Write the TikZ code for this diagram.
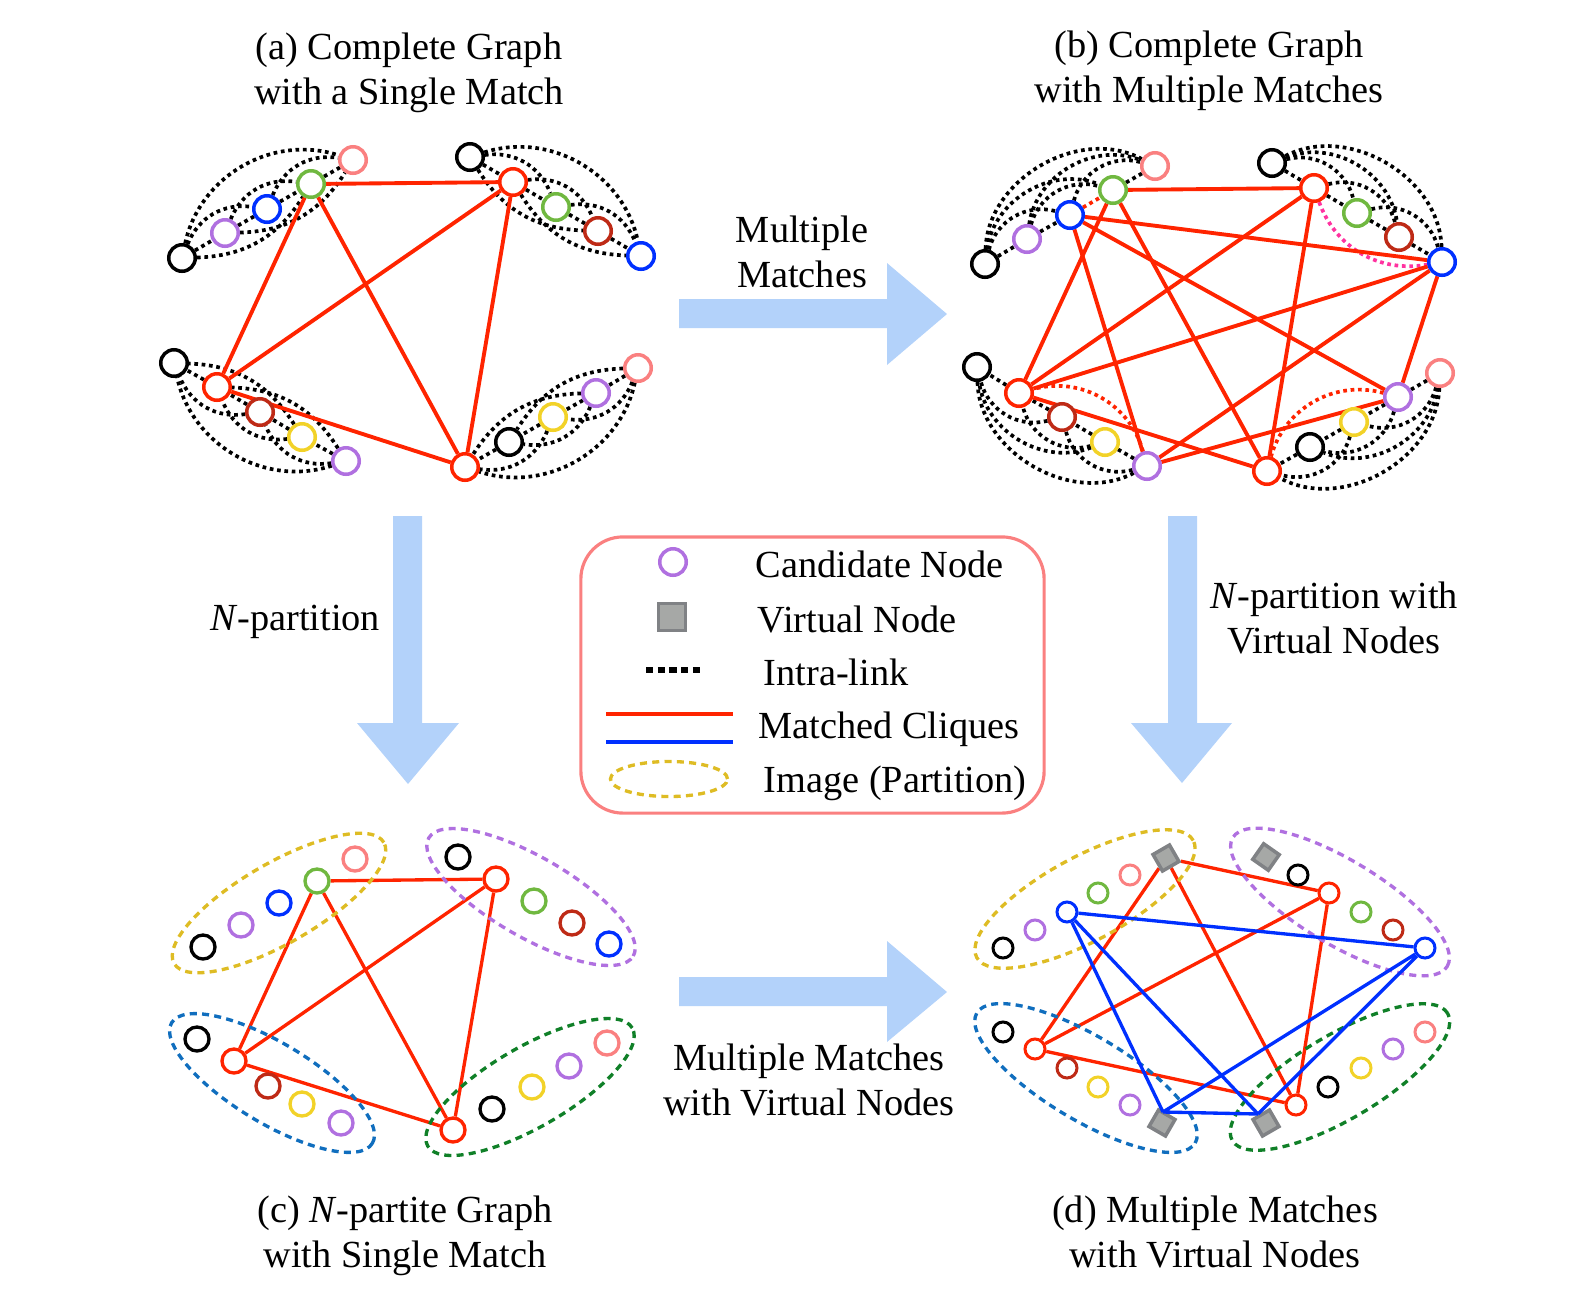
\documentclass[tikz,border=0pt]{standalone}
\usepackage{fontspec}
\setmainfont{Liberation Serif}
\usetikzlibrary{shapes.geometric}
\pgfdeclarelayer{bg}
\pgfsetlayers{bg,main}
\definecolor{cpink}{RGB}{250,128,128}
\definecolor{cgreen}{RGB}{112,184,64}
\definecolor{cblue}{RGB}{0,48,255}
\definecolor{cpurple}{RGB}{176,112,224}
\definecolor{cred}{RGB}{255,36,0}
\definecolor{cdred}{RGB}{190,42,22}
\definecolor{cyellow}{RGB}{242,210,40}
\definecolor{eyellow}{RGB}{222,188,36}
\definecolor{eblue}{RGB}{16,110,190}
\definecolor{egreen}{RGB}{16,128,40}
\definecolor{cmag}{RGB}{255,50,160}
\definecolor{arrowblue}{RGB}{179,210,250}
\definecolor{vfill}{RGB}{166,168,166}
\definecolor{vborder}{RGB}{128,130,133}
\definecolor{lborder}{RGB}{250,128,128}
\tikzset{
  cand/.style={circle, draw=#1, fill=white, line width=1pt, minimum size=0.265cm, inner sep=0pt},
  smallc/.style={minimum size=0.24cm, line width=0.95pt},
  tinyc/.style={minimum size=0.2cm, line width=0.85pt},
  vsq/.style={rectangle, draw=vborder, fill=vfill, line width=1pt, minimum size=0.19cm, inner sep=0pt},
  match/.style={cred, line width=1.1pt},
  thinmatch/.style={cred, line width=0.95pt},
  bmatch/.style={cblue, line width=0.95pt},
  intra/.style={black, line width=1.05pt, dash pattern=on 1.05pt off 1.05pt},
  cintra/.style={line width=1.05pt, dash pattern=on 1.05pt off 1.05pt},
  part/.style={ellipse, draw=#1, line width=0.95pt, dash pattern=on 2pt off 1.5pt, inner sep=0pt},
  lbl/.style={font=\fontsize{10.9pt}{12.8pt}\selectfont, inner sep=0pt, anchor=base},
  legtxt/.style={font=\fontsize{10.9pt}{12.8pt}\selectfont, inner sep=0pt, anchor=base west},
  legdots/.style={black, line width=1.7pt, dash pattern=on 2pt off 1.34pt},
  bigarrow/.style={fill=arrowblue, draw=none},
}
% complete intra-image graph on five nodes
\newcommand{\kfive}[8]{%
  \draw[intra] (#4)--(#5) (#5)--(#6) (#6)--(#7) (#7)--(#8);
  \draw[intra] (#4) to[#1] (#6) (#5) to[#1] (#7) (#6) to[#1] (#8);
  \draw[intra] (#4) to[#2] (#7) (#5) to[#2] (#8);
  \draw[intra] (#4) to[#3] (#8);
}
\begin{document}
\begin{tikzpicture}[x=0.01cm,y=-0.01cm]
\useasboundingbox (0,0) rectangle (1590,1293);

% ---------- big arrows ----------
\fill[bigarrow] (679,299) -- (887,299) -- (887,263) -- (947,314) -- (887,365) -- (887,328) -- (679,328) -- cycle;
\fill[bigarrow] (679,977) -- (887,977) -- (887,941) -- (947,992) -- (887,1042) -- (887,1006) -- (679,1006) -- cycle;
\fill[bigarrow] (393,516) -- (422,516) -- (422,723) -- (459,723) -- (408,784) -- (357,723) -- (393,723) -- cycle;
\fill[bigarrow] (1168,516) -- (1197,516) -- (1197,723) -- (1232,723) -- (1182,783) -- (1131,723) -- (1168,723) -- cycle;

% ---------- labels ----------
\node[lbl] (ta1) at (409,59) {(a) Complete Graph};
\node[lbl] (ta2) at (409,104) {with a Single Match};
\node[lbl] (tb1) at (1209,57) {(b) Complete Graph};
\node[lbl] (tb2) at (1209,102) {with Multiple Matches};
\node[lbl] (tc1) at (405,1222) {(c) \textit{N}-partite Graph};
\node[lbl] (tc2) at (405,1267) {with Single Match};
\node[lbl] (td1) at (1215,1222) {(d) Multiple Matches};
\node[lbl] (td2) at (1215,1267) {with Virtual Nodes};
\node[lbl] (mm1) at (802,242) {Multiple};
\node[lbl] (mm2) at (802,287) {Matches};
\node[lbl] (np) at (295,630) {\textit{N}-partition};
\node[lbl] (nv1) at (1334,608) {\textit{N}-partition with};
\node[lbl] (nv2) at (1334,653) {Virtual Nodes};
\node[lbl] (mv1) at (809,1070) {Multiple Matches};
\node[lbl] (mv2) at (809,1115) {with Virtual Nodes};

% ---------- legend ----------
\node[draw=lborder, line width=0.9pt, rounded corners=0.42cm, minimum width=4.63cm, minimum height=2.76cm, inner sep=0pt] (legend) at (812.5,675) {};
\node[cand=cpurple] (lc) at (673,562) {};
\node[vsq, minimum size=0.27cm] (lv) at (672,617) {};
\coordinate (li1) at (646,670); \coordinate (li2) at (700,670);
\draw[legdots] (li1) -- (li2);
\coordinate (lr1) at (606,714); \coordinate (lr2) at (733,714);
\coordinate (lb1) at (606,742); \coordinate (lb2) at (733,742);
\draw[cred, line width=1.2pt] (lr1) -- (lr2);
\draw[cblue, line width=1.2pt] (lb1) -- (lb2);
\node[part=eyellow, minimum width=1.17cm, minimum height=0.35cm] (le) at (669,779) {};
\node[legtxt] (lt1) at (755,577) {Candidate Node};
\node[legtxt] (lt2) at (757,632) {Virtual Node};
\node[legtxt] (lt3) at (763,685) {Intra-link};
\node[legtxt] (lt4) at (758,738) {Matched Cliques};
\node[legtxt] (lt5) at (763,792) {Image (Partition)};

% ================= (a) =================
\node[cand=black]   (aA1) at (182,258) {};
\node[cand=cpurple] (aA2) at (225,233) {};
\node[cand=cblue]   (aA3) at (267,209) {};
\node[cand=cgreen]  (aA4) at (311,184) {};
\node[cand=cpink]   (aA5) at (353,160) {};
\node[cand=black]   (aB1) at (470,157) {};
\node[cand=cred]    (aB2) at (513,182) {};
\node[cand=cgreen]  (aB3) at (556,207) {};
\node[cand=cdred]   (aB4) at (598,231) {};
\node[cand=cblue]   (aB5) at (641,256) {};
\node[cand=cpurple] (aC1) at (346,461) {};
\node[cand=cyellow] (aC2) at (302,437) {};
\node[cand=cdred]   (aC3) at (260,412) {};
\node[cand=cred]    (aC4) at (217,387) {};
\node[cand=black]   (aC5) at (174,363) {};
\node[cand=cpink]   (aD1) at (638,368) {};
\node[cand=cpurple] (aD2) at (596,393) {};
\node[cand=cyellow] (aD3) at (553,417) {};
\node[cand=black]   (aD4) at (509,442) {};
\node[cand=cred]    (aD5) at (465,467) {};
\begin{pgfonlayer}{bg}
\kfive{bend left=38}{bend right=28}{bend left=48}{aA1}{aA2}{aA3}{aA4}{aA5}
\kfive{bend left=38}{bend right=28}{bend left=48}{aB1}{aB2}{aB3}{aB4}{aB5}
\kfive{bend left=38}{bend right=28}{bend left=48}{aC1}{aC2}{aC3}{aC4}{aC5}
\kfive{bend left=38}{bend right=28}{bend left=48}{aD1}{aD2}{aD3}{aD4}{aD5}
\draw[match] (aA4)--(aB2) (aA4)--(aC4) (aA4)--(aD5) (aB2)--(aC4) (aB2)--(aD5) (aC4)--(aD5);
\end{pgfonlayer}

% ================= (b) =================
\node[cand=black]   (bA1) at (985,264) {};
\node[cand=cpurple] (bA2) at (1027,239) {};
\node[cand=cblue]   (bA3) at (1070,215) {};
\node[cand=cgreen]  (bA4) at (1113,190) {};
\node[cand=cpink]   (bA5) at (1155,166) {};
\node[cand=black]   (bB1) at (1272,163) {};
\node[cand=cred]    (bB2) at (1314,188) {};
\node[cand=cgreen]  (bB3) at (1357,213) {};
\node[cand=cdred]   (bB4) at (1399,237) {};
\node[cand=cblue]   (bB5) at (1442,262) {};
\node[cand=cpurple] (bC1) at (1147,466) {};
\node[cand=cyellow] (bC2) at (1105,442) {};
\node[cand=cdred]   (bC3) at (1062,417) {};
\node[cand=cred]    (bC4) at (1019,393) {};
\node[cand=black]   (bC5) at (977,367) {};
\node[cand=cpink]   (bD1) at (1440,373) {};
\node[cand=cpurple] (bD2) at (1398,397) {};
\node[cand=cyellow] (bD3) at (1354,422) {};
\node[cand=black]   (bD4) at (1310,447) {};
\node[cand=cred]    (bD5) at (1267,471) {};
\begin{pgfonlayer}{bg}
% TL
\draw[intra] (bA1)--(bA2) (bA2)--(bA3) (bA4)--(bA5);
\draw[cintra, cred] (bA3)--(bA4);
\draw[intra] (bA1) to[bend left=45] (bA3) (bA2) to[bend left=45] (bA4) (bA3) to[bend left=45] (bA5);
\draw[intra] (bA1) to[bend left=52] (bA4) (bA2) to[bend left=52] (bA5);
\draw[intra] (bA1) to[bend left=58] (bA5);
% TR
\draw[intra] (bB1)--(bB2) (bB2)--(bB3) (bB3)--(bB4) (bB4)--(bB5);
\draw[intra] (bB1) to[bend left=45] (bB3) (bB2) to[bend left=45] (bB4) (bB3) to[bend left=45] (bB5);
\draw[intra] (bB1) to[bend left=52] (bB4);
\draw[cintra, cmag] (bB2) to[bend right=40] (bB5);
\draw[intra] (bB1) to[bend left=58] (bB5);
% BL
\draw[intra] (bC1)--(bC2) (bC2)--(bC3) (bC3)--(bC4) (bC4)--(bC5);
\draw[intra] (bC1) to[bend left=45] (bC3) (bC2) to[bend left=45] (bC4) (bC3) to[bend left=45] (bC5);
\draw[cintra, cred] (bC1) to[bend right=45] (bC4);
\draw[intra] (bC2) to[bend left=52] (bC5);
\draw[intra] (bC1) to[bend left=58] (bC5);
% BR
\draw[intra] (bD1)--(bD2) (bD2)--(bD3) (bD3)--(bD4) (bD4)--(bD5);
\draw[intra] (bD1) to[bend left=45] (bD3) (bD2) to[bend left=45] (bD4) (bD3) to[bend left=45] (bD5);
\draw[intra] (bD1) to[bend left=52] (bD4);
\draw[cintra, cred] (bD2) to[bend right=45] (bD5);
\draw[intra] (bD1) to[bend left=58] (bD5);
% matches
\draw[match] (bA4)--(bB2) (bA4)--(bC4) (bA4)--(bD5) (bB2)--(bC4) (bB2)--(bD5) (bC4)--(bD5);
\draw[match] (bA3)--(bB5) (bA3)--(bC1) (bA3)--(bD2) (bB5)--(bC4) (bB5)--(bC1) (bB5)--(bD2) (bC1)--(bD2);
\end{pgfonlayer}

% ================= (c) =================
\node[part=eyellow, minimum width=2.42cm, minimum height=0.8cm, rotate=30] (cEA) at (279,903) {};
\node[part=cpurple, minimum width=2.36cm, minimum height=0.8cm, rotate=-30] (cEB) at (531,897) {};
\node[part=eblue, minimum width=2.34cm, minimum height=0.8cm, rotate=-31] (cEC) at (272,1083) {};
\node[part=egreen, minimum width=2.36cm, minimum height=0.8cm, rotate=30] (cED) at (530,1087) {};
\node[cand=black, smallc]   (cA1) at (203,947) {};
\node[cand=cpurple, smallc] (cA2) at (241,925) {};
\node[cand=cblue, smallc]   (cA3) at (279,903) {};
\node[cand=cgreen, smallc]  (cA4) at (317,881) {};
\node[cand=cpink, smallc]   (cA5) at (355,859) {};
\node[cand=black, smallc]   (cB1) at (458,857) {};
\node[cand=cred, smallc]    (cB2) at (496,879) {};
\node[cand=cgreen, smallc]  (cB3) at (534,901) {};
\node[cand=cdred, smallc]   (cB4) at (572,923) {};
\node[cand=cblue, smallc]   (cB5) at (609,944) {};
\node[cand=black, smallc]   (cC1) at (197,1039) {};
\node[cand=cred, smallc]    (cC2) at (234,1061) {};
\node[cand=cdred, smallc]   (cC3) at (268,1086) {};
\node[cand=cyellow, smallc] (cC4) at (302,1104) {};
\node[cand=cpurple, smallc] (cC5) at (341,1123) {};
\node[cand=cred, smallc]    (cD1) at (453,1130) {};
\node[cand=black, smallc]   (cD2) at (492,1109) {};
\node[cand=cyellow, smallc] (cD3) at (532,1087) {};
\node[cand=cpurple, smallc] (cD4) at (569,1066) {};
\node[cand=cpink, smallc]   (cD5) at (607,1043) {};
\begin{pgfonlayer}{bg}
\draw[thinmatch] (cA4)--(cB2) (cA4)--(cC2) (cA4)--(cD1) (cB2)--(cC2) (cB2)--(cD1) (cC2)--(cD1);
\end{pgfonlayer}

% ================= (d) =================
\node[part=eyellow, minimum width=2.46cm, minimum height=0.84cm, rotate=28.4] (dEA) at (1085,899) {};
\node[part=cpurple, minimum width=2.5cm, minimum height=0.84cm, rotate=-31] (dEB) at (1340,902) {};
\node[part=eblue, minimum width=2.54cm, minimum height=0.84cm, rotate=-30.8] (dEC) at (1086,1078) {};
\node[part=egreen, minimum width=2.5cm, minimum height=0.84cm, rotate=30.6] (dED) at (1340,1077) {};
\node[vsq, rotate=30]         (dA0) at (1166,858) {};
\node[cand=cpink, tinyc]     (dA1) at (1130,875) {};
\node[cand=cgreen, tinyc]    (dA2) at (1098,893) {};
\node[cand=cblue, tinyc]     (dA3) at (1067,912) {};
\node[cand=cpurple, tinyc]   (dA4) at (1035,930) {};
\node[cand=black, tinyc]     (dA5) at (1003,948) {};
\node[vsq, rotate=-35]        (dB0) at (1266,857) {};
\node[cand=black, tinyc]     (dB1) at (1298,875) {};
\node[cand=cred, tinyc]      (dB2) at (1329,893) {};
\node[cand=cgreen, tinyc]    (dB3) at (1361,912) {};
\node[cand=cdred, tinyc]     (dB4) at (1393,930) {};
\node[cand=cblue, tinyc]     (dB5) at (1425,948) {};
\node[cand=black, tinyc]     (dC1) at (1003,1032) {};
\node[cand=cred, tinyc]      (dC2) at (1035,1049) {};
\node[cand=cdred, tinyc]     (dC3) at (1067,1068) {};
\node[cand=cyellow, tinyc]   (dC4) at (1098,1087) {};
\node[cand=cpurple, tinyc]   (dC5) at (1130,1105) {};
\node[vsq, rotate=-30]        (dC0) at (1162,1123) {};
\node[vsq, rotate=30]         (dD0) at (1266,1123) {};
\node[cand=cred, tinyc]      (dD1) at (1296,1105) {};
\node[cand=black, tinyc]     (dD2) at (1328,1087) {};
\node[cand=cyellow, tinyc]   (dD3) at (1361,1068) {};
\node[cand=cpurple, tinyc]   (dD4) at (1393,1049) {};
\node[cand=cpink, tinyc]     (dD5) at (1425,1032) {};
\coordinate (dCt) at (1163,1112);
\coordinate (dDt) at (1258,1114);
\begin{pgfonlayer}{bg}
\draw[thinmatch] (dA0)--(dB2) (dA0)--(dC2) (dA0)--(dD1) (dB2)--(dC2) (dB2)--(dD1) (dC2)--(dD1);
\end{pgfonlayer}
\draw[bmatch] (dA3)--(dB5) (dA3)--(dCt) (dA3)--(dDt) (dB5)--(dCt) (dB5)--(dDt) (dCt)--(dDt);
\end{tikzpicture}
\end{document}
